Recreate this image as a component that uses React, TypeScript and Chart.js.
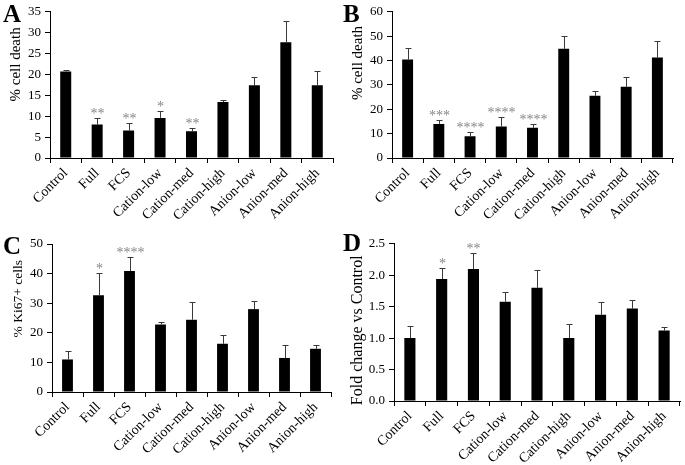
import React, { useEffect, useRef } from "react";
import { Chart, registerables } from "chart.js";

Chart.register(...registerables);

const SERIF = '"Liberation Serif", "Times New Roman", Times, serif';

// ---------------- data ----------------
const categories = [
  "Control",
  "Full",
  "FCS",
  "Cation-low",
  "Cation-med",
  "Cation-high",
  "Anion-low",
  "Anion-med",
  "Anion-high",
];

// Panel A: % cell death
const deathA = [20.7, 8.0, 6.6, 9.6, 6.4, 13.4, 17.4, 27.7, 17.4];
const errA = [0.4, 1.5, 1.8, 1.7, 0.9, 0.5, 2.0, 5.1, 3.4];
const starsA = ["", "**", "**", "*", "**", "", "", "", ""];

// Panel B: % cell death
const deathB = [40.4, 14.0, 8.9, 12.9, 12.4, 44.8, 25.5, 29.2, 41.2];
const errB = [4.6, 1.7, 1.8, 3.8, 1.7, 5.2, 1.9, 4.0, 6.7];
const starsB = ["", "***", "****", "****", "****", "", "", "", ""];

// Panel C: % Ki67+ cells
const ki67C = [11.0, 32.7, 40.9, 22.8, 24.4, 16.3, 28.0, 11.5, 14.6];
const errC = [2.9, 7.6, 4.8, 1.0, 6.0, 2.9, 2.8, 4.3, 1.4];
const starsC = ["", "*", "****", "", "", "", "", "", ""];

// Panel D: fold change vs control
const foldD = [1.0, 1.94, 2.1, 1.58, 1.8, 1.0, 1.37, 1.47, 1.12];
const errD = [0.2, 0.18, 0.26, 0.16, 0.28, 0.22, 0.21, 0.14, 0.06];
const starsD = ["", "*", "**", "", "", "", "", "", ""];

// y-axis settings
const yTicksA = { max: 35, step: 5, decimals: 0 };
const yTicksB = { max: 60, step: 10, decimals: 0 };
const yTicksC = { max: 50, step: 10, decimals: 0 };
const yTicksD = { max: 2.5, step: 0.5, decimals: 1 };

// ---------------- plugins ----------------
const errorBarPlugin = {
  id: "errorBars",
  afterDatasetsDraw(chart: any, _args: any, opts: any) {
    const { ctx } = chart;
    const meta = chart.getDatasetMeta(0);
    const yScale = chart.scales.y;
    const values: number[] = opts.values || [];
    const errors: number[] = opts.errors || [];
    const stars: string[] = opts.stars || [];
    ctx.save();
    meta.data.forEach((bar: any, i: number) => {
      const x = Math.round(bar.x) + 0.5;
      const base = yScale.getPixelForValue(values[i]);
      const top = Math.round(yScale.getPixelForValue(values[i] + errors[i])) + 0.5;
      ctx.strokeStyle = "#3a3a3a";
      ctx.lineWidth = 1;
      ctx.beginPath();
      ctx.moveTo(x, base);
      ctx.lineTo(x, top);
      ctx.moveTo(x - 3, top);
      ctx.lineTo(x + 3, top);
      ctx.stroke();
      if (stars[i]) {
        ctx.fillStyle = "#858585";
        ctx.font = `14px ${SERIF}`;
        ctx.textAlign = "center";
        ctx.textBaseline = "alphabetic";
        ctx.fillText(stars[i], x, top - 1);
      }
    });
    ctx.restore();
  },
};

const panelTextPlugin = {
  id: "panelText",
  afterDraw(chart: any, _args: any, opts: any) {
    const { ctx, chartArea } = chart;
    ctx.save();
    ctx.fillStyle = "#000";
    ctx.font = `bold 25px ${SERIF}`;
    ctx.textAlign = "left";
    ctx.textBaseline = "alphabetic";
    ctx.fillText(opts.letter, opts.letterX, opts.letterY);

    const cy = chartArea.top + opts.titleFrac * (chartArea.bottom - chartArea.top);
    ctx.translate(opts.titleX, cy);
    ctx.rotate(-Math.PI / 2);
    ctx.font = `${opts.titleSize}px ${SERIF}`;
    ctx.textAlign = "center";
    ctx.textBaseline = "middle";
    ctx.fillText(opts.title, 0, 0);
    ctx.restore();
  },
};

// ---------------- panel component ----------------
type PanelProps = {
  left: number;
  top: number;
  width: number;
  height: number;
  values: number[];
  errors: number[];
  stars: string[];
  yTicks: { max: number; step: number; decimals: number };
  letter: string;
  letterX: number;
  letterY: number;
  title: string;
  titleSize: number;
  titleX: number;
  titleFrac: number;
  plotLeft: number;
  plotRight: number;
  plotTop: number;
  plotBottom: number;
};

function Panel(p: PanelProps) {
  const ref = useRef<HTMLCanvasElement | null>(null);

  useEffect(() => {
    if (!ref.current) return;
    const chart = new Chart(ref.current, {
      type: "bar",
      data: {
        labels: categories,
        datasets: [
          {
            data: p.values,
            backgroundColor: "#000000",
            borderWidth: 0,
            barPercentage: 0.35,
            categoryPercentage: 1.0,
          },
        ],
      },
      options: {
        animation: false,
        responsive: false,
        maintainAspectRatio: false,
        layout: {
          padding: {
            left: 0,
            top: p.plotTop,
            right: p.width - p.plotRight,
            bottom: 0,
          },
        },
        plugins: {
          legend: { display: false },
          tooltip: { enabled: false },
          errorBars: { values: p.values, errors: p.errors, stars: p.stars },
          panelText: {
            letter: p.letter,
            letterX: p.letterX,
            letterY: p.letterY,
            title: p.title,
            titleSize: p.titleSize,
            titleX: p.titleX,
            titleFrac: p.titleFrac,
          },
        } as any,
        scales: {
          x: {
            offset: true,
            grid: {
              display: true,
              offset: true,
              drawOnChartArea: false,
              drawTicks: true,
              tickLength: 5,
              color: "#000",
            },
            border: { display: true, color: "#000", width: 1 },
            ticks: {
              color: "#000",
              font: { family: SERIF, size: 14 },
              minRotation: 45,
              maxRotation: 45,
              autoSkip: false,
              padding: 2,
            },
            afterFit(scale: any) {
              scale.height = p.height - p.plotBottom;
            },
          },
          y: {
            min: 0,
            max: p.yTicks.max,
            grid: {
              display: true,
              drawOnChartArea: false,
              drawTicks: true,
              tickLength: 5,
              color: "#000",
            },
            border: { display: true, color: "#000", width: 1 },
            ticks: {
              stepSize: p.yTicks.step,
              color: "#000",
              font: { family: SERIF, size: 13 },
              padding: 4,
              callback: (v: any) => Number(v).toFixed(p.yTicks.decimals),
            },
            afterFit(scale: any) {
              scale.width = p.plotLeft;
            },
          },
        },
      },
      plugins: [errorBarPlugin, panelTextPlugin],
    });
    return () => chart.destroy();
  }, []);

  return (
    <canvas
      ref={ref}
      width={p.width}
      height={p.height}
      style={{
        position: "absolute",
        left: p.left,
        top: p.top,
        width: p.width,
        height: p.height,
      }}
    />
  );
}

export default function App() {
  return (
    <div
      style={{
        position: "fixed",
        left: 0,
        top: 0,
        width: 685,
        height: 465,
        background: "#fff",
        overflow: "hidden",
      }}
    >
      <Panel
        left={0}
        top={0}
        width={342}
        height={232}
        values={deathA}
        errors={errA}
        stars={starsA}
        yTicks={yTicksA}
        letter="A"
        letterX={3}
        letterY={22}
        title="% cell death"
        titleSize={15}
        titleX={16}
        titleFrac={0.36}
        plotLeft={50}
        plotRight={333}
        plotTop={7}
        plotBottom={158}
      />
      <Panel
        left={342}
        top={0}
        width={343}
        height={232}
        values={deathB}
        errors={errB}
        stars={starsB}
        yTicks={yTicksB}
        letter="B"
        letterX={1}
        letterY={22}
        title="% cell death"
        titleSize={15}
        titleX={16}
        titleFrac={0.35}
        plotLeft={50}
        plotRight={331}
        plotTop={7}
        plotBottom={158}
      />
      <Panel
        left={0}
        top={232}
        width={342}
        height={233}
        values={ki67C}
        errors={errC}
        stars={starsC}
        yTicks={yTicksC}
        letter="C"
        letterX={3}
        letterY={22}
        title="% Ki67+ cells"
        titleSize={13.5}
        titleX={18}
        titleFrac={0.37}
        plotLeft={52}
        plotRight={331}
        plotTop={12}
        plotBottom={160}
      />
      <Panel
        left={342}
        top={232}
        width={343}
        height={233}
        values={foldD}
        errors={errD}
        stars={starsD}
        yTicks={yTicksD}
        letter="D"
        letterX={1}
        letterY={19}
        title="Fold change vs Control"
        titleSize={16}
        titleX={16}
        titleFrac={0.55}
        plotLeft={52}
        plotRight={338}
        plotTop={5}
        plotBottom={169}
      />
    </div>
  );
}
